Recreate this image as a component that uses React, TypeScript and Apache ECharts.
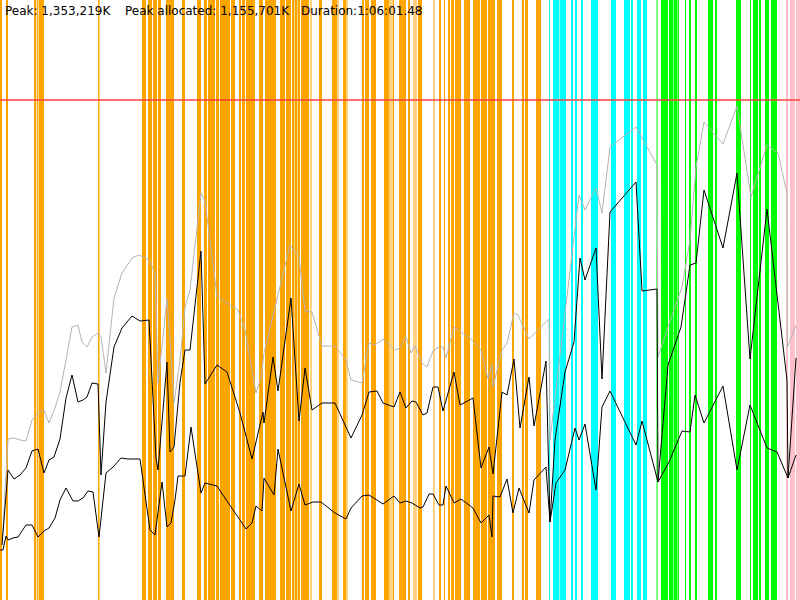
import React, { useEffect, useRef } from "react";
import * as echarts from "echarts";

// Time axis in sample units (0..800), memory in chart units (0..600, max heap = 500)
const maxHeapLevel = 500;

const youngGcBands: [number, number][] = [
  [0, 2], [6, 8], [34, 36], [36.7, 38.3], [38.8, 44], [98, 99.5], [142, 146], [148, 152], [153, 157],
  [158, 161], [166, 174], [182, 185], [197, 201], [204, 207], [208, 215], [216, 219], [220, 230],
  [231, 235], [239, 241], [242, 245], [246, 255], [259, 263], [265, 276], [280, 285], [286, 291],
  [292, 294], [294.5, 297], [297.5, 300], [301, 309], [319, 322], [332, 337], [337.5, 338.5],
  [343, 346], [362, 364], [365, 369], [371, 376], [384, 386], [386, 389], [392.5, 394], [399, 406],
  [408, 410], [418, 422], [439, 441], [444, 445], [448, 450], [451, 454], [455, 461], [464, 470],
  [473, 480], [481, 487], [488, 495], [497, 502], [512, 514], [522, 524], [525, 528], [536, 541],
];
const lightGcBands: [number, number][] = [
  [310, 312], [346, 348], [389, 392], [413, 417], [433, 435],
];
const mixedGcBands: [number, number][] = [
  [549, 550], [553, 559], [559.5, 566], [571, 573], [575, 577], [581, 583], [591, 598],
  [611, 616], [624, 630], [631, 633], [637, 641], [643, 647],
];
const fullGcBands: [number, number][] = [
  [661, 668], [669, 673], [673.5, 677], [677.5, 679], [685, 686], [689, 691], [695, 697],
  [708, 713], [715, 717], [736, 741], [750, 751], [753, 758], [759, 761], [765, 769], [771, 777],
];
const lightFullGcBands: [number, number][] = [[656, 658]];
const remarkBands: [number, number][] = [[786, 788], [790, 795], [796, 800]];

const heapSize: [number, number][] = [
  [2, 55], [8, 161], [14, 162], [20, 160], [26, 159], [32, 180], [38, 187], [44, 190], [49, 177],
  [55, 192], [60, 208], [66, 240], [72, 273], [78, 275], [82, 258], [87, 253], [92, 263], [98, 267],
  [101, 263], [106, 227], [114, 302], [122, 327], [132, 342], [139, 345], [149, 340], [155, 327],
  [158, 217], [167, 301], [170, 260], [174, 197], [180, 240], [185, 293], [190, 310], [201, 407],
  [205, 399], [217, 304], [227, 297], [238, 290], [245, 270], [256, 207], [261, 222], [264, 247],
  [290, 355], [299, 343], [305, 289], [312, 288], [322, 254], [335, 254], [346, 240], [351, 220],
  [362, 217], [369, 257], [375, 255], [383, 261], [395, 250], [400, 252], [406, 263], [411, 247],
  [415, 254], [422, 237], [427, 233], [433, 249], [439, 253], [443, 253], [446, 242], [454, 273],
  [472, 260], [481, 250], [488, 221], [492, 236], [493, 213], [502, 250], [507, 257], [514, 287],
  [518, 285], [529, 261], [549, 281], [550, 160], [579, 405], [585, 390], [596, 412], [602, 387],
  [610, 453], [636, 473], [657, 435], [658, 243], [668, 273], [682, 313], [690, 360], [696, 433],
  [704, 478], [723, 456], [737, 494], [751, 403], [767, 455], [778, 447], [787, 407], [787.5, 253],
  [796, 275],
];

const heapUsed: [number, number][] = [
  [2, 55], [8, 130], [14, 121], [20, 125], [26, 132], [32, 149], [38, 151], [44, 127], [49, 140],
  [54, 143], [60, 161], [66, 202], [72, 225], [78, 198], [83, 200], [87, 203], [92, 217], [98, 216],
  [101, 125], [106, 198], [114, 253], [122, 272], [132, 284], [140, 279], [149, 280], [156, 142],
  [158, 130], [167, 238], [170, 148], [174, 153], [180, 218], [185, 250], [190, 250], [201, 349],
  [205, 216], [217, 235], [227, 228], [240, 187], [252, 141], [263, 188], [264, 177], [273, 243],
  [278, 209], [291, 302], [299, 179], [305, 232], [312, 190], [322, 197], [335, 197], [351, 162],
  [362, 185], [369, 208], [377, 209], [383, 197], [394, 193], [400, 208], [406, 192], [412, 199],
  [416, 198], [423, 185], [427, 187], [433, 213], [438, 213], [443, 189], [454, 228], [460, 195],
  [473, 202], [481, 132], [489, 153], [493, 126], [502, 208], [507, 205], [514, 241], [520, 172],
  [529, 223], [534, 174], [546, 239], [550, 78], [555, 160], [565, 228], [574, 258], [580, 342],
  [585, 320], [596, 352], [602, 221], [610, 388], [636, 418], [642, 309], [657, 311], [658, 118],
  [668, 235], [681, 273], [690, 335], [696, 337], [704, 410], [723, 352], [737, 427], [750, 241],
  [767, 391], [787, 220], [788, 122], [796, 242],
];

const heapLive: [number, number][] = [
  [0, 50], [3, 50], [6, 64], [8, 60], [13, 62], [18, 63], [26, 75], [32, 75], [38, 63], [44, 69],
  [49, 72], [55, 82], [60, 100], [66, 112], [73, 99], [78, 99], [83, 102], [88, 109], [93, 108],
  [99, 63], [106, 127], [113, 133], [121, 142], [128, 141], [140, 141], [150, 70], [155, 65],
  [162, 118], [167, 73], [171, 77], [175, 100], [178, 124], [185, 124], [191, 173], [201, 107],
  [205, 117], [217, 114], [227, 99], [240, 80], [246, 71], [252, 77], [256, 94], [262, 89],
  [264, 122], [274, 105], [278, 151], [291, 89], [299, 116], [305, 95], [313, 98], [321, 98],
  [335, 87], [346, 81], [351, 92], [362, 104], [369, 105], [383, 96], [394, 104], [400, 97],
  [406, 99], [412, 97], [420, 92], [423, 93], [429, 106], [433, 106], [439, 95], [443, 95],
  [446, 114], [454, 97], [461, 101], [473, 92], [481, 77], [489, 85], [492, 63], [493, 104],
  [500, 103], [507, 121], [513, 87], [519, 112], [529, 87], [534, 120], [546, 133], [550, 78],
  [556, 117], [565, 130], [575, 172], [579, 160], [585, 176], [596, 110], [602, 193], [610, 209],
  [636, 155], [642, 179], [658, 118], [669, 138], [682, 169], [690, 168], [695, 205], [704, 177],
  [723, 214], [737, 130], [750, 195], [767, 152], [777, 148], [788, 122], [796, 145],
];

const headerTexts = ["Peak: 1,353,219K", "Peak allocated: 1,155,701K", "Duration:1:06:01.48"];
const bandColors = ["#ffa500", "rgba(255,165,0,0.5)", "#00ffff", "#00ff00", "rgba(0,255,0,0.5)", "#ffc0cb"];

export default function App() {
  const ref = useRef<HTMLDivElement>(null);
  useEffect(() => {
    if (!ref.current) return;
    const chart = echarts.init(ref.current, null, { renderer: "svg" });
    const groups = [youngGcBands, lightGcBands, mixedGcBands, fullGcBands, lightFullGcBands, remarkBands];
    const bandData: number[][] = [];
    groups.forEach((g, k) => g.forEach((b) => bandData.push([b[0], b[1], k])));
    const textX = [5, 125, 301];
    chart.setOption({
      animation: false,
      backgroundColor: "#ffffff",
      grid: { left: 0, right: 0, top: 0, bottom: 0 },
      xAxis: { type: "value", min: 0, max: 800, show: false },
      yAxis: { type: "value", min: 0, max: 600, show: false },
      graphic: headerTexts.map((t, i) => ({
        type: "text",
        x: textX[i],
        y: 5,
        z: 100,
        style: { text: t, font: "12px 'DejaVu Sans'", fill: "#000", verticalAlign: "top" },
      })),
      series: [
        {
          type: "custom",
          silent: true,
          z: 1,
          encode: { x: [0, 1] },
          data: bandData,
          renderItem: (_p: any, api: any) => {
            const p0 = api.coord([api.value(0), 600]);
            const p1 = api.coord([api.value(1), 0]);
            return {
              type: "rect",
              shape: { x: p0[0], y: p0[1], width: p1[0] - p0[0], height: p1[1] - p0[1] },
              style: { fill: bandColors[api.value(2)] },
            };
          },
        },
        {
          type: "line",
          data: heapSize,
          showSymbol: false,
          silent: true,
          z: 3,
          lineStyle: { color: "#b4b4b4", width: 1 },
          markLine: {
            silent: true,
            symbol: "none",
            label: { show: false },
            lineStyle: { color: "#ff4040", width: 1.5, type: "solid" },
            data: [{ yAxis: maxHeapLevel }],
          },
        },
        {
          type: "line",
          data: heapUsed,
          showSymbol: false,
          silent: true,
          z: 4,
          lineStyle: { color: "#000", width: 1 },
        },
        {
          type: "line",
          data: heapLive,
          showSymbol: false,
          silent: true,
          z: 4,
          lineStyle: { color: "#000", width: 1 },
        },
      ],
    });
    return () => chart.dispose();
  }, []);
  return <div ref={ref} style={{ position: "fixed", left: 0, top: 0, width: 800, height: 600 }} />;
}
